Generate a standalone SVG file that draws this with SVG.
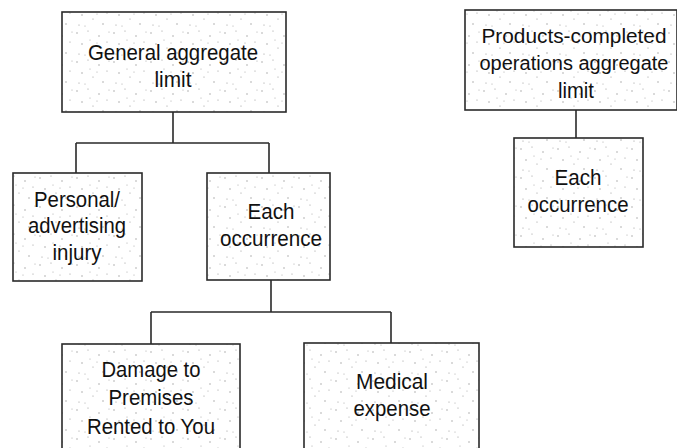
<svg xmlns="http://www.w3.org/2000/svg" width="677" height="448" viewBox="0 0 677 448">
<style>
.box{fill:url(#stip);stroke:#2a2a2a;stroke-width:1.6}
.t{font-family:"Liberation Sans",Arial,sans-serif;font-size:22px;fill:#111;text-anchor:middle}
.c{fill:none;stroke:#2a2a2a;stroke-width:1.6}
</style>
<defs>
<pattern id="stip" width="37" height="29" patternUnits="userSpaceOnUse">
<rect width="37" height="29" fill="#fff"/>
<g fill="#999">
<circle cx="3" cy="4" r="0.7"/><circle cx="14" cy="2" r="0.6"/><circle cx="25" cy="7" r="0.7"/>
<circle cx="33" cy="13" r="0.6"/><circle cx="8" cy="15" r="0.7"/><circle cx="19" cy="19" r="0.6"/>
<circle cx="29" cy="24" r="0.7"/><circle cx="5" cy="25" r="0.6"/><circle cx="16" cy="11" r="0.5"/>
<circle cx="35" cy="3" r="0.5"/><circle cx="11" cy="26" r="0.5"/><circle cx="23" cy="14" r="0.5"/>
</g>
</pattern>
</defs>
<g id="connectors">
<path class="c" d="M173 112 V143 M76 143 H269 M76 143 V173 M269 143 V173"/>
<path class="c" d="M271 280 V312 M151 312 H391 M151 312 V344 M391 312 V343"/>
<path class="c" d="M576 110 V138"/>
</g>
<g id="general-aggregate">
<rect class="box" x="62" y="12" width="224" height="100"/>
<text class="t" x="173" y="60" textLength="170" lengthAdjust="spacingAndGlyphs">General aggregate</text>
<text class="t" x="173" y="87" textLength="37" lengthAdjust="spacingAndGlyphs">limit</text>
</g>
<g id="personal-advertising">
<rect class="box" x="13" y="173" width="129" height="108"/>
<text class="t" x="77" y="207" textLength="86" lengthAdjust="spacingAndGlyphs">Personal/</text>
<text class="t" x="77" y="233" textLength="98" lengthAdjust="spacingAndGlyphs">advertising</text>
<text class="t" x="77" y="260" textLength="49" lengthAdjust="spacingAndGlyphs">injury</text>
</g>
<g id="each-occurrence">
<rect class="box" x="207" y="173" width="123" height="107"/>
<text class="t" x="271" y="219" textLength="47" lengthAdjust="spacingAndGlyphs">Each</text>
<text class="t" x="271" y="246" textLength="102" lengthAdjust="spacingAndGlyphs">occurrence</text>
</g>
<g id="damage-premises">
<rect class="box" x="62" y="344" width="178" height="120"/>
<text class="t" x="151" y="377" textLength="99" lengthAdjust="spacingAndGlyphs">Damage to</text>
<text class="t" x="151" y="405" textLength="85" lengthAdjust="spacingAndGlyphs">Premises</text>
<text class="t" x="151" y="434" textLength="128" lengthAdjust="spacingAndGlyphs">Rented to You</text>
</g>
<g id="medical-expense">
<rect class="box" x="304" y="343" width="175" height="120"/>
<text class="t" x="392" y="389" textLength="72" lengthAdjust="spacingAndGlyphs">Medical</text>
<text class="t" x="392" y="416" textLength="77" lengthAdjust="spacingAndGlyphs">expense</text>
</g>
<g id="products-completed">
<rect class="box" x="465" y="10" width="212" height="100"/>
<text class="t" x="574" y="43" style="font-size:20.5px" textLength="185" lengthAdjust="spacingAndGlyphs">Products-completed</text>
<text class="t" x="574" y="70" style="font-size:19.5px" textLength="189" lengthAdjust="spacingAndGlyphs">operations aggregate</text>
<text class="t" x="576" y="98" textLength="36" lengthAdjust="spacingAndGlyphs">limit</text>
</g>
<g id="products-each-occurrence">
<rect class="box" x="514" y="138" width="129" height="109"/>
<text class="t" x="578" y="185" textLength="47" lengthAdjust="spacingAndGlyphs">Each</text>
<text class="t" x="578" y="212" textLength="101" lengthAdjust="spacingAndGlyphs">occurrence</text>
</g>
</svg>
